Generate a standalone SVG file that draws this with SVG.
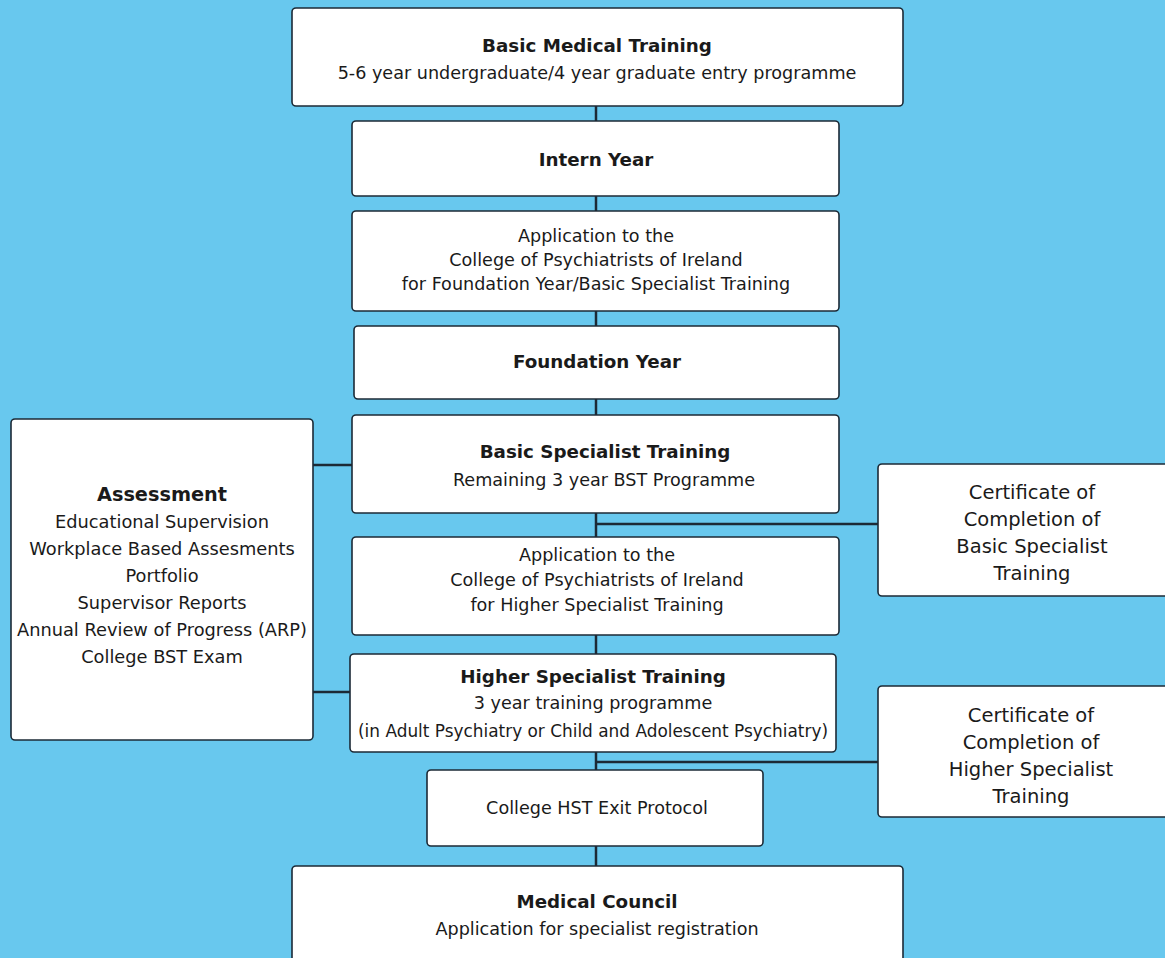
<svg xmlns="http://www.w3.org/2000/svg" width="1165" height="958" viewBox="0 0 1165 958">
<style>
.bg{fill:#68C8EE}
.box{fill:#ffffff;stroke:#1c2a36;stroke-width:1.6}
.ln{stroke:#1c2a36;stroke-width:2.5;fill:none}
text{font-family:"DejaVu Sans","Liberation Sans",sans-serif;fill:#1a1a1a;text-anchor:middle}
.t{font-size:18.3px;font-weight:bold}
.s{font-size:17.6px}
.c{font-size:19.5px}
.a{font-size:17.8px}
</style>
<rect class="bg" x="0" y="0" width="1165" height="958"/>
<g id="connectors">
<line class="ln" x1="596" y1="106" x2="596" y2="121"/>
<line class="ln" x1="596" y1="196" x2="596" y2="211"/>
<line class="ln" x1="596" y1="311" x2="596" y2="326"/>
<line class="ln" x1="596" y1="399" x2="596" y2="415"/>
<line class="ln" x1="596" y1="513" x2="596" y2="537"/>
<line class="ln" x1="596" y1="635" x2="596" y2="654"/>
<line class="ln" x1="596" y1="752" x2="596" y2="770"/>
<line class="ln" x1="596" y1="846" x2="596" y2="866"/>
<line class="ln" x1="596" y1="524" x2="878" y2="524"/>
<line class="ln" x1="596" y1="762" x2="878" y2="762"/>
<line class="ln" x1="313" y1="465" x2="352" y2="465"/>
<line class="ln" x1="313" y1="692" x2="350" y2="692"/>
</g>
<g id="basic-medical">
<rect class="box" x="292" y="8" width="611" height="98" rx="4"/>
<text class="t" x="597" y="52">Basic Medical Training</text>
<text class="s" x="597" y="79">5-6 year undergraduate/4 year graduate entry programme</text>
</g>
<g id="intern">
<rect class="box" x="352" y="121" width="487" height="75" rx="4"/>
<text class="t" x="596" y="166">Intern Year</text>
</g>
<g id="app-bst">
<rect class="box" x="352" y="211" width="487" height="100" rx="4"/>
<text class="s" x="596" y="242">Application to the</text>
<text class="s" x="596" y="266">College of Psychiatrists of Ireland</text>
<text class="s" x="596" y="290">for Foundation Year/Basic Specialist Training</text>
</g>
<g id="foundation">
<rect class="box" x="354" y="326" width="485" height="73" rx="4"/>
<text class="t" x="597" y="368">Foundation Year</text>
</g>
<g id="bst">
<rect class="box" x="352" y="415" width="487" height="98" rx="4"/>
<text class="t" x="605" y="458">Basic Specialist Training</text>
<text class="s" x="604" y="486">Remaining 3 year BST Programme</text>
</g>
<g id="app-hst">
<rect class="box" x="352" y="537" width="487" height="98" rx="4"/>
<text class="s" x="597" y="561">Application to the</text>
<text class="s" x="597" y="586">College of Psychiatrists of Ireland</text>
<text class="s" x="597" y="611">for Higher Specialist Training</text>
</g>
<g id="hst">
<rect class="box" x="350" y="654" width="486" height="98" rx="4"/>
<text class="t" x="593" y="683">Higher Specialist Training</text>
<text class="s" x="593" y="709">3 year training programme</text>
<text class="s" x="593" y="737" textLength="470" lengthAdjust="spacingAndGlyphs">(in Adult Psychiatry or Child and Adolescent Psychiatry)</text>
</g>
<g id="exit">
<rect class="box" x="427" y="770" width="336" height="76" rx="4"/>
<text class="s" x="597" y="814">College HST Exit Protocol</text>
</g>
<g id="medical-council">
<rect class="box" x="292" y="866" width="611" height="100" rx="4"/>
<text class="t" x="597" y="908">Medical Council</text>
<text class="s" x="597" y="935">Application for specialist registration</text>
</g>
<g id="assessment">
<rect class="box" x="11" y="419" width="302" height="321" rx="4"/>
<text class="t" x="162" y="501" style="font-size:19.3px">Assessment</text>
<text class="a" x="162" y="528">Educational Supervision</text>
<text class="a" x="162" y="555">Workplace Based Assesments</text>
<text class="a" x="162" y="582">Portfolio</text>
<text class="a" x="162" y="609">Supervisor Reports</text>
<text class="a" x="162" y="636">Annual Review of Progress (ARP)</text>
<text class="a" x="162" y="663">College BST Exam</text>
</g>
<g id="cert-bst">
<rect class="box" x="878" y="464" width="300" height="132" rx="4"/>
<text class="c" x="1032" y="499">Certificate of</text>
<text class="c" x="1032" y="526">Completion of</text>
<text class="c" x="1032" y="553">Basic Specialist</text>
<text class="c" x="1032" y="580">Training</text>
</g>
<g id="cert-hst">
<rect class="box" x="878" y="686" width="300" height="131" rx="4"/>
<text class="c" x="1031" y="722">Certificate of</text>
<text class="c" x="1031" y="749">Completion of</text>
<text class="c" x="1031" y="776">Higher Specialist</text>
<text class="c" x="1031" y="803">Training</text>
</g>
</svg>
